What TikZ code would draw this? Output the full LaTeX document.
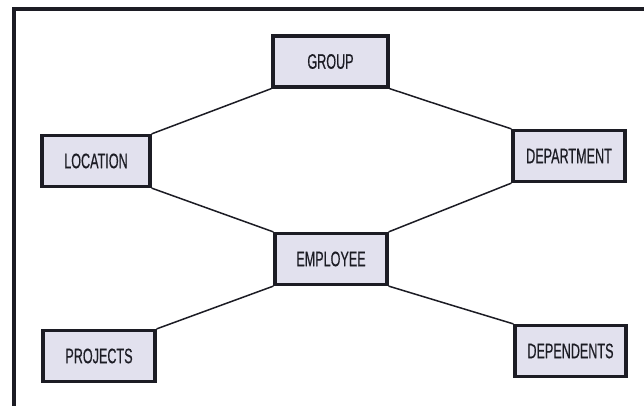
\documentclass[tikz,border=0pt]{standalone}
\usepackage{fontspec}
\setmainfont{Liberation Sans}[FakeStretch=0.6,FakeBold=0.5]
\definecolor{boxfill}{RGB}{226,225,238}
\definecolor{ink}{RGB}{28,28,36}
\begin{document}
\begin{tikzpicture}[x=1pt,y=-1pt,
  entity/.style={draw=ink,line width=3.2pt,fill=boxfill,minimum width=112pt,minimum height=51pt,
    inner sep=0pt,font=\fontsize{21}{24}\selectfont,text=ink},
  link/.style={draw=ink,line width=1.5pt}]
\useasboundingbox (0,0) rectangle (644,406);
\clip (0,0) rectangle (644,406);
\fill[white] (0,0) rectangle (644,406);
\draw[ink,line width=3.2pt] (14,9) rectangle (720,480);
\node[entity,minimum width=115pt] (g) at (330.5,61.5) {GROUP};
\node[entity,minimum width=108pt] (l) at (96,161) {LOCATION};
\node[entity] (d) at (569,156) {DEPARTMENT};
\node[entity] (e) at (331,259) {EMPLOYEE};
\node[entity] (p) at (99,356) {PROJECTS};
\node[entity,minimum width=111pt] (s) at (570.5,351) {DEPENDENTS};
\draw[link] (g.south west) -- (l.north east);
\draw[link] (g.south east) -- (d.north west);
\draw[link] (l.south east) -- (e.north west);
\draw[link] (d.south west) -- (e.north east);
\draw[link] (e.south west) -- (p.north east);
\draw[link] (e.south east) -- (s.north west);
\end{tikzpicture}
\end{document}
